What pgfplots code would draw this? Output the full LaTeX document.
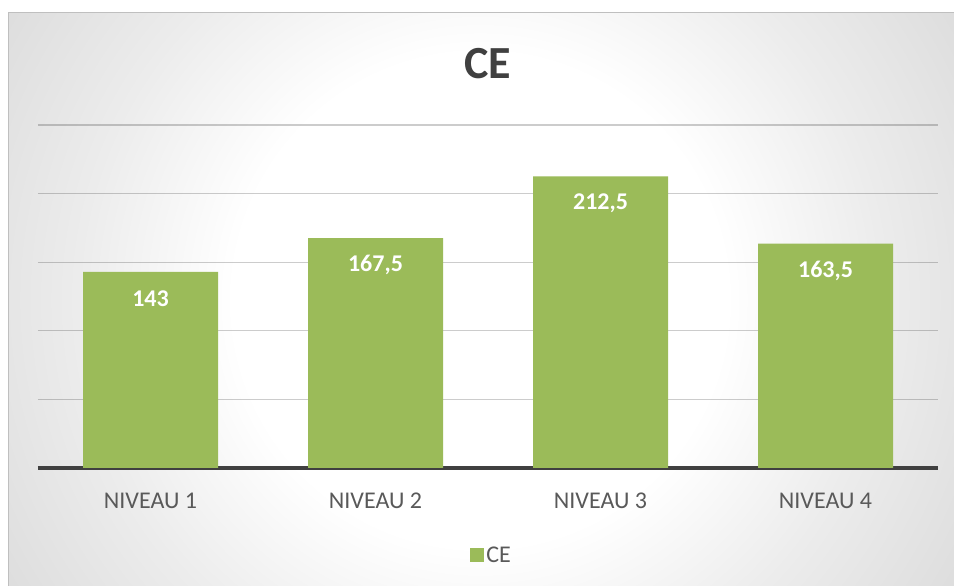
\documentclass[border=0pt]{standalone}
\usepackage{pgfplots}
\pgfplotsset{compat=1.18}
\usepackage{fontspec}
\setmainfont{Carlito}
\definecolor{bargreen}{HTML}{9BBB59}
\definecolor{txt}{HTML}{595959}
\definecolor{ttl}{HTML}{404040}
\definecolor{bgA}{RGB}{236,236,236}
\definecolor{bgB}{RGB}{210,210,210}
\definecolor{bgC}{RGB}{196,196,196}
\pgfdeclareradialshading{chartbg}{\pgfpoint{0bp}{0bp}}{color(0bp)=(white); color(11bp)=(white); color(18bp)=(bgA); color(30bp)=(bgB); color(35.4bp)=(bgC); color(50bp)=(bgC)}
\pgfplotstableread{
x y lab
0 143 143
1 167.5 {167,5}
2 212.5 {212,5}
3 163.5 {163,5}
}\cedata
\begin{document}
\begin{tikzpicture}[x=1pt,y=1pt]
\useasboundingbox (0,0) rectangle (954,586);
\fill[white] (0,0) rectangle (954,586);
\begin{scope}
\clip (8,0) rectangle (954,573);
\shade[shading=chartbg] (480,286) circle [radius=560];
\end{scope}
\draw[color=black!25, line width=1pt] (8,0) -- (8,573) -- (954,573);
\node[font=\bfseries\fontsize{46}{50}\selectfont, text=ttl] at (488,522) {CE};
\begin{axis}[
  at={(38pt,118pt)}, anchor=south west,
  width=900pt, height=343pt, scale only axis,
  ybar, bar width=135pt,
  xmin=-0.5, xmax=3.5, ymin=0, ymax=250,
  ytick={50,100,150,200,250}, yticklabels={},
  xtick=data, xticklabels={NIVEAU 1,NIVEAU 2,NIVEAU 3,NIVEAU 4},
  xticklabel style={font=\fontsize{24}{28}\selectfont, text=txt, anchor=base, yshift=-41pt},
  major tick length=0pt, tick style={draw=none},
  axis x line*=bottom, axis y line*=left,
  y axis line style={draw=none},
  x axis line style={draw=ttl, line width=3.5pt, -},
  ymajorgrids, major grid style={draw=black, draw opacity=0.2, line width=1.3pt},
  point meta=explicit symbolic,
  nodes near coords,
  nodes near coords style={font=\bfseries\fontsize{24}{28}\selectfont, text=white, anchor=center, yshift=-27pt},
  legend style={at={(axis description cs:0.504,-0.254)}, anchor=center, draw=none, fill=none, font=\fontsize{24}{28}\selectfont, text=txt},
  legend image code/.code={\fill[bargreen] (0pt,-7pt) rectangle (14pt,7pt);},
]
\addplot[fill=bargreen, draw=none] table[x=x, y=y, meta=lab] {\cedata};
\addlegendentry{CE}
\end{axis}
\end{tikzpicture}
\end{document}
